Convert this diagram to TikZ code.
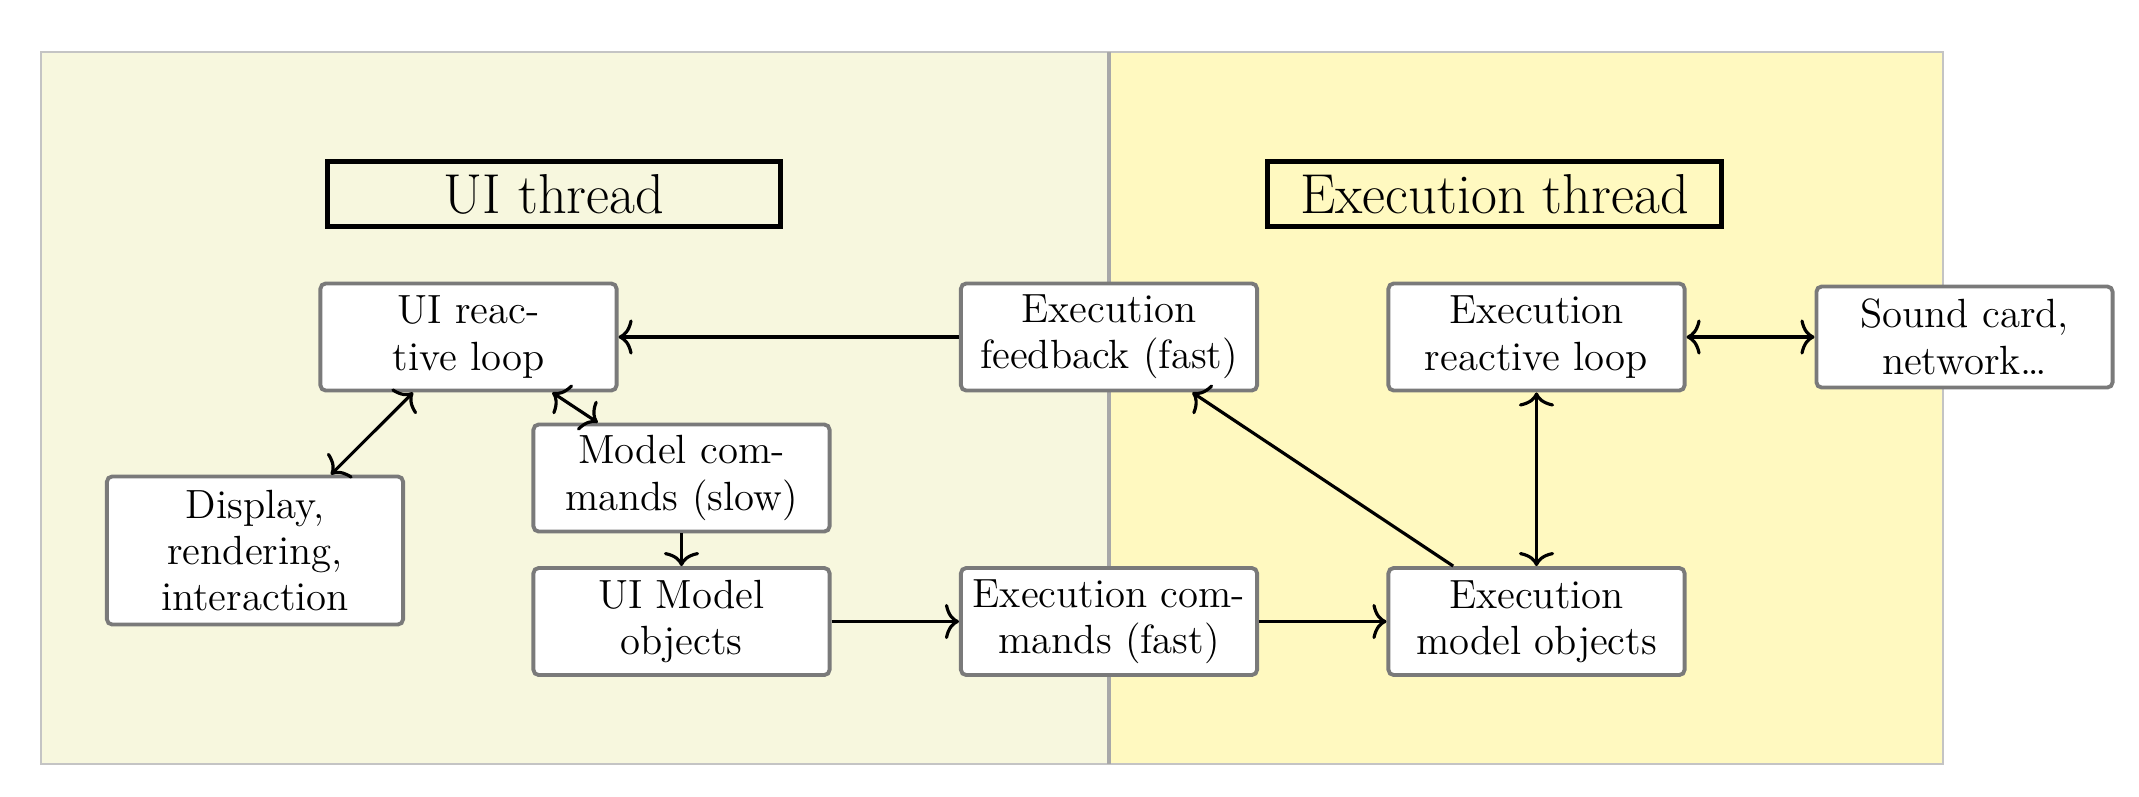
\documentclass[tikz,border=0pt]{standalone}
\usetikzlibrary{arrows.meta}
\definecolor{uibg}{HTML}{F7F7DE}
\definecolor{exbg}{HTML}{FFF9C0}
\definecolor{bgborder}{HTML}{C4C4C4}
\definecolor{divcol}{HTML}{A8A8A8}
\definecolor{boxborder}{HTML}{7A7A7A}
\tikzset{
  procbox/.style={draw=boxborder, line width=1.1pt, fill=white, rounded corners=1.5pt,
    align=center, inner sep=0pt, minimum width=2.96cm, minimum height=1.07cm,
    font=\fontsize{11.6}{13.2}\selectfont},
  titlebox/.style={draw=black, line width=1.4pt, fill=none, inner sep=0pt,
    minimum width=4.53cm, minimum height=0.65cm, font=\fontsize{16}{19}\selectfont},
  conn/.style={line width=0.9pt, -{To[length=4pt,width=10pt]}},
  bconn/.style={line width=0.9pt, {To[length=4pt,width=10pt]}-{To[length=4pt,width=10pt]}}
}
\begin{document}
\begin{tikzpicture}[x=0.01cm,y=-0.01cm]
\useasboundingbox (0,0) rectangle (2139,796);
% backgrounds
\fill[uibg] (41,52) rectangle (1109,764);
\fill[exbg] (1109,52) rectangle (1943,764);
\draw[bgborder, line width=0.8pt] (41,52) rectangle (1943,764);
\draw[divcol, line width=0.9pt] (1109,52) -- (1109,764);
% titles
\node[titlebox] (uit) at (554,194) {UI thread};
\node[titlebox] (ext) at (1494.5,194) {Execution thread};
% boxes
\node[procbox] (ui) at (468.5,337) {UI reac-\\tive loop};
\node[procbox] (fb) at (1109,337) {Execution\\feedback (fast)};
\node[procbox] (erl) at (1536.5,337) {Execution\\reactive loop};
\node[procbox, minimum height=1.01cm] (snd) at (1964.5,337) {Sound card,\\network\dots};
\node[procbox, minimum height=1.48cm] (disp) at (255,550.5) {Display,\\rendering,\\interaction};
\node[procbox] (mc) at (681.5,478) {Model com-\\mands (slow)};
\node[procbox] (uimo) at (681.5,621.5) {UI Model\\objects};
\node[procbox] (ec) at (1109,621.5) {Execution com-\\mands (fast)};
\node[procbox] (emo) at (1536.5,621.5) {Execution\\model objects};
% connectors
\draw[conn] (fb) -- (ui);
\draw[bconn] (ui) -- (disp);
\draw[bconn] (ui) -- (mc);
\draw[conn] (mc) -- (uimo);
\draw[conn] (uimo) -- (ec);
\draw[conn] (ec) -- (emo);
\draw[conn] (emo) -- (fb);
\draw[bconn] (erl) -- (emo);
\draw[bconn] (erl) -- (snd);
\end{tikzpicture}
\end{document}
